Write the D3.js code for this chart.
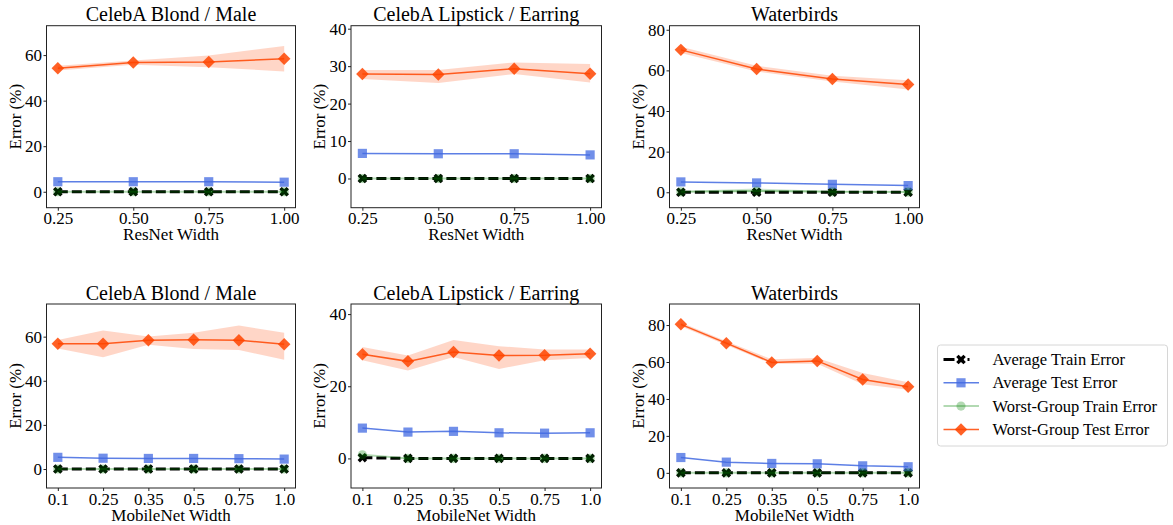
<!DOCTYPE html>
<html>
<head>
<meta charset="utf-8">
<script src="https://cdn.jsdelivr.net/npm/d3@7"></script>
<style>
  body { margin: 0; background: #fff; }
  svg text { font-family: "Liberation Serif", "DejaVu Serif", "Times New Roman", Times, serif; fill: #000; }
</style>
</head>
<body>
<svg id="chart" width="1173" height="525"></svg>
<script>
// x categories
const resnetWidths = [0.25, 0.5, 0.75, 1.0];
const resnetLabels = ['0.25', '0.50', '0.75', '1.00'];
const mobilenetLabels = ['0.1', '0.25', '0.35', '0.5', '0.75', '1.0'];

const seriesNames = ['Average Train Error', 'Average Test Error', 'Worst-Group Train Error', 'Worst-Group Test Error'];

// CelebA Blond / Male, ResNet
const blondResAvgTrain = [0, 0, 0, 0];
const blondResAvgTest = [4.4, 4.4, 4.4, 4.2];
const blondResWgTrain = [0, 0, 0, 0];
const blondResWgTest = [54.2, 56.7, 57.0, 58.4];
const blondResWgTestLo = [53.2, 55.8, 54.7, 52.8];
const blondResWgTestHi = [55.3, 57.6, 59.8, 64.0];

// CelebA Lipstick / Earring, ResNet
const lipResAvgTrain = [0, 0, 0, 0];
const lipResAvgTest = [6.7, 6.6, 6.6, 6.3];
const lipResWgTrain = [0, 0, 0, 0];
const lipResWgTest = [27.9, 27.8, 29.3, 28.0];
const lipResWgTestLo = [26.6, 25.5, 27.9, 25.6];
const lipResWgTestHi = [29.0, 29.0, 31.0, 30.6];

// Waterbirds, ResNet
const birdsResAvgTrain = [0, 0, 0, 0];
const birdsResAvgTest = [5.1, 4.6, 3.9, 3.3];
const birdsResWgTrain = [0.2, 0.6, 0.2, 0.1];
const birdsResWgTrainLo = [0, 0, 0, 0];
const birdsResWgTrainHi = [0.6, 1.8, 0.6, 0.3];
const birdsResWgTest = [70.1, 60.7, 55.8, 53.0];
const birdsResWgTestLo = [68.6, 59.4, 54.5, 50.6];
const birdsResWgTestHi = [71.6, 62.3, 57.4, 55.2];

// CelebA Blond / Male, MobileNet
const blondMobAvgTrain = [0, 0, 0, 0, 0, 0];
const blondMobAvgTest = [5.3, 4.9, 4.8, 4.8, 4.7, 4.5];
const blondMobWgTrain = [0, 0, 0, 0, 0, 0];
const blondMobWgTest = [56.8, 56.8, 58.4, 58.6, 58.4, 56.6];
const blondMobWgTestLo = [54.6, 50.7, 56.3, 54.4, 54.0, 49.5];
const blondMobWgTestHi = [58.5, 62.8, 60.1, 61.8, 65.0, 61.8];

// CelebA Lipstick / Earring, MobileNet
const lipMobAvgTrain = [0.2, 0, 0, 0, 0, 0];
const lipMobAvgTest = [8.4, 7.3, 7.5, 7.1, 7.0, 7.1];
const lipMobWgTrain = [1.0, 0, 0, 0, 0, 0];
const lipMobWgTest = [28.9, 26.9, 29.5, 28.5, 28.6, 29.0];
const lipMobWgTestLo = [27.2, 24.4, 28.1, 24.8, 27.2, 27.8];
const lipMobWgTestHi = [30.9, 28.5, 32.8, 31.1, 30.2, 30.2];

// Waterbirds, MobileNet
const birdsMobAvgTrain = [0, 0, 0, 0, 0, 0];
const birdsMobAvgTest = [8.3, 5.8, 5.1, 4.9, 3.8, 3.3];
const birdsMobWgTrain = [0, 0, 0, 0, 0, 0];
const birdsMobWgTest = [80.4, 70.2, 59.8, 60.6, 50.5, 46.6];
const birdsMobWgTestLo = [79.3, 69.2, 59.0, 59.0, 48.0, 45.0];
const birdsMobWgTestHi = [81.4, 71.2, 61.5, 62.2, 54.0, 49.0];

const COLORS = {
  avgTrain: '#000000',
  avgTest: '#4169e1',
  wgTrain: '#008000',
  wgTest: '#ff4500'
};
const FONT = '"Liberation Serif", "DejaVu Serif", "Times New Roman", Times, serif';

const svg = d3.select('#chart');

const colLeft = [46.5, 351, 669.5];
const colRight = [295.5, 601.5, 919.5];
const rowTop = [25.7, 304];
const rowBottom = [207.7, 488];

const panels = [
  { row: 0, col: 0, title: 'CelebA Blond / Male', xlabel: 'ResNet Width', kind: 'res', ydom: [-7.0, 72.9], yticks: [0, 20, 40, 60],
    avgTrain: blondResAvgTrain, avgTest: blondResAvgTest, wgTrain: blondResWgTrain, wgTest: blondResWgTest, lo: blondResWgTestLo, hi: blondResWgTestHi },
  { row: 0, col: 1, title: 'CelebA Lipstick / Earring', xlabel: 'ResNet Width', kind: 'res', ydom: [-7.8, 40.8], yticks: [0, 10, 20, 30, 40],
    avgTrain: lipResAvgTrain, avgTest: lipResAvgTest, wgTrain: lipResWgTrain, wgTest: lipResWgTest, lo: lipResWgTestLo, hi: lipResWgTestHi },
  { row: 0, col: 2, title: 'Waterbirds', xlabel: 'ResNet Width', kind: 'res', ydom: [-7.6, 82], yticks: [0, 20, 40, 60, 80],
    avgTrain: birdsResAvgTrain, avgTest: birdsResAvgTest, wgTrain: birdsResWgTrain, wgTest: birdsResWgTest, lo: birdsResWgTestLo, hi: birdsResWgTestHi,
    gLo: birdsResWgTrainLo, gHi: birdsResWgTrainHi },
  { row: 1, col: 0, title: 'CelebA Blond / Male', xlabel: 'MobileNet Width', kind: 'mob', ydom: [-8.6, 74.8], yticks: [0, 20, 40, 60],
    avgTrain: blondMobAvgTrain, avgTest: blondMobAvgTest, wgTrain: blondMobWgTrain, wgTest: blondMobWgTest, lo: blondMobWgTestLo, hi: blondMobWgTestHi },
  { row: 1, col: 1, title: 'CelebA Lipstick / Earring', xlabel: 'MobileNet Width', kind: 'mob', ydom: [-8.2, 42.8], yticks: [0, 20, 40],
    avgTrain: lipMobAvgTrain, avgTest: lipMobAvgTest, wgTrain: lipMobWgTrain, wgTest: lipMobWgTest, lo: lipMobWgTestLo, hi: lipMobWgTestHi },
  { row: 1, col: 2, title: 'Waterbirds', xlabel: 'MobileNet Width', kind: 'mob', ydom: [-8.2, 91.4], yticks: [0, 20, 40, 60, 80],
    avgTrain: birdsMobAvgTrain, avgTest: birdsMobAvgTest, wgTrain: birdsMobWgTrain, wgTest: birdsMobWgTest, lo: birdsMobWgTestLo, hi: birdsMobWgTestHi }
];

// marker shapes
const markerPath = {
  avgTrain: d3.symbol(d3.symbolCross).size(58)(),
  avgTest: d3.symbol(d3.symbolSquare).size(84)(),
  wgTrain: d3.symbol(d3.symbolCircle).size(66)(),
  wgTest: d3.symbol(d3.symbolSquare).size(78)()
};
const markerRot = { avgTrain: 45, avgTest: 0, wgTrain: 0, wgTest: 45 };

function drawMarkers(g, pts, key, opacity) {
  g.selectAll(null)
    .data(pts)
    .join('path')
    .attr('d', markerPath[key])
    .attr('transform', d => `translate(${d[0]},${d[1]}) rotate(${markerRot[key]})`)
    .attr('fill', COLORS[key])
    .attr('fill-opacity', opacity);
}

panels.forEach(p => {
  const left = colLeft[p.col], right = colRight[p.col];
  const top = rowTop[p.row], bottom = rowBottom[p.row];
  const g = svg.append('g');

  let xs, xAxis, xvals;
  if (p.kind === 'res') {
    xs = d3.scaleLinear().domain([0.2125, 1.0375]).range([left, right]);
    xvals = resnetWidths;
    xAxis = d3.axisBottom(xs).tickValues(resnetWidths).tickFormat((d, i) => resnetLabels[i]);
  } else {
    xs = d3.scalePoint().domain(mobilenetLabels).range([left, right]).padding(0.25);
    xvals = mobilenetLabels;
    xAxis = d3.axisBottom(xs);
  }
  const ys = d3.scaleLinear().domain(p.ydom).range([bottom, top]);

  const line = d3.line().x(d => d[0]).y(d => d[1]);
  const pts = arr => arr.map((v, i) => [xs(xvals[i]), ys(v)]);

  // bands
  const area = d3.area().x((d, i) => xs(xvals[i])).y0(d => ys(d[0])).y1(d => ys(d[1]));
  if (p.gLo) {
    g.append('path').attr('d', area(p.gLo.map((v, i) => [v, p.gHi[i]])))
      .attr('fill', COLORS.wgTrain).attr('fill-opacity', 0.2);
  }
  g.append('path').attr('d', area(p.lo.map((v, i) => [v, p.hi[i]])))
    .attr('fill', COLORS.wgTest).attr('fill-opacity', 0.22);

  // average train: dashed black
  g.append('path').attr('d', line(pts(p.avgTrain))).attr('fill', 'none')
    .attr('stroke', COLORS.avgTrain).attr('stroke-width', 3).attr('stroke-dasharray', '10,4');
  drawMarkers(g, pts(p.avgTrain), 'avgTrain', 1);

  // average test
  g.append('path').attr('d', line(pts(p.avgTest))).attr('fill', 'none')
    .attr('stroke', COLORS.avgTest).attr('stroke-opacity', 0.85).attr('stroke-width', 1.5);
  drawMarkers(g, pts(p.avgTest), 'avgTest', 0.75);

  // worst-group train
  g.append('path').attr('d', line(pts(p.wgTrain))).attr('fill', 'none')
    .attr('stroke', COLORS.wgTrain).attr('stroke-opacity', 0.3).attr('stroke-width', 2);
  drawMarkers(g, pts(p.wgTrain), 'wgTrain', 0.3);

  // worst-group test
  g.append('path').attr('d', line(pts(p.wgTest))).attr('fill', 'none')
    .attr('stroke', COLORS.wgTest).attr('stroke-opacity', 0.85).attr('stroke-width', 1.5);
  drawMarkers(g, pts(p.wgTest), 'wgTest', 0.85);

  // frame
  g.append('rect').attr('x', left).attr('y', top).attr('width', right - left).attr('height', bottom - top)
    .attr('fill', 'none').attr('stroke', '#222').attr('stroke-width', 1);

  // axes
  const xg = g.append('g').attr('transform', `translate(0,${bottom})`)
    .call(xAxis.tickSizeOuter(0).tickSizeInner(3).tickPadding(1.5));
  const yg = g.append('g').attr('transform', `translate(${left},0)`)
    .call(d3.axisLeft(ys).tickValues(p.yticks).tickSizeOuter(0).tickSizeInner(3).tickPadding(1.5));
  [xg, yg].forEach(a => {
    a.attr('font-family', FONT).attr('font-size', 17);
    a.select('.domain').remove();
    a.selectAll('text').attr('font-family', FONT).style('font-family', FONT).style('font-size', '17px');
    a.selectAll('line').attr('stroke', '#222');
  });

  // labels
  const cx = (left + right) / 2;
  g.append('text').attr('x', cx).attr('y', top - 4.5).attr('text-anchor', 'middle')
    .style('font-family', FONT).style('font-size', '20px').text(p.title);
  g.append('text').attr('x', cx).attr('y', bottom + 32.5).attr('text-anchor', 'middle')
    .style('font-family', FONT).style('font-size', '17px').text(p.xlabel);
  g.append('text').attr('transform', `translate(${left - 26},${(top + bottom) / 2}) rotate(-90)`)
    .attr('text-anchor', 'middle').style('font-family', FONT).style('font-size', '17px').text('Error (%)');
});

// legend
const legend = svg.append('g').attr('transform', 'translate(937.5,345)');
legend.append('rect').attr('width', 230).attr('height', 101).attr('rx', 3)
  .attr('fill', '#fff').attr('stroke', '#d6d6d6').attr('stroke-width', 1);
const legKeys = ['avgTrain', 'avgTest', 'wgTrain', 'wgTest'];
legKeys.forEach((k, i) => {
  const y = 14.5 + i * 23.3;
  const row = legend.append('g');
  const ln = row.append('line').attr('x1', 6).attr('x2', 41.5).attr('y1', y).attr('y2', y)
    .attr('stroke', COLORS[k]);
  if (k === 'avgTrain') ln.attr('stroke-width', 3).attr('stroke-dasharray', '11,4,5,4,2');
  else if (k === 'wgTrain') ln.attr('stroke-width', 2).attr('stroke-opacity', 0.3);
  else ln.attr('stroke-width', 1.5).attr('stroke-opacity', 0.85);
  const op = { avgTrain: 1, avgTest: 0.75, wgTrain: 0.3, wgTest: 0.85 }[k];
  drawMarkers(row, [[23.5, y]], k, op);
  row.append('text').attr('x', 55).attr('y', y + 5.5)
    .style('font-family', FONT).style('font-size', '16.5px').text(seriesNames[i]);
});
</script>
</body>
</html>
